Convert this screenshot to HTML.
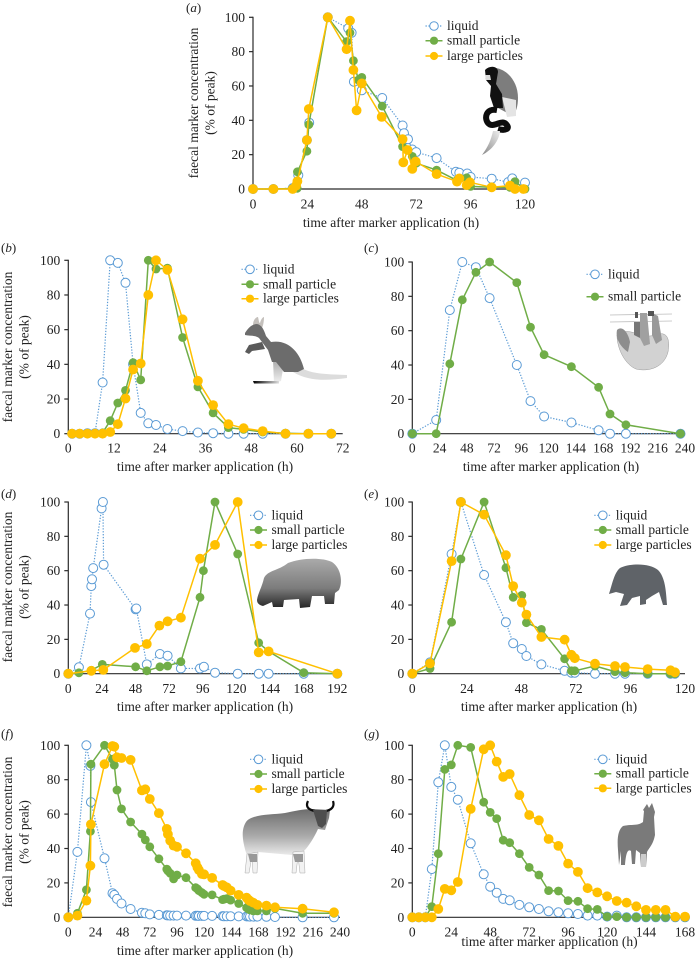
<!DOCTYPE html>
<html lang="en">
<head>
<meta charset="utf-8">
<title>Faecal marker concentration over time</title>
<style>
html,body{margin:0;padding:0;background:#fff;}
#chart{display:block;width:695px;height:959px;font-family:"Liberation Serif",serif;fill:#222;}
</style>
</head>
<body>
<svg id="chart" xmlns="http://www.w3.org/2000/svg" width="695" height="959" viewBox="0 0 695 959">
<defs>
<linearGradient id="kangarooLeg" x1="0" y1="0" x2="0" y2="1"><stop offset="0" stop-color="#aaa"/><stop offset="1" stop-color="#f2f2f2"/></linearGradient>
<linearGradient id="kangarooFoot" x1="0" y1="0" x2="1" y2="0"><stop offset="0" stop-color="#000"/><stop offset="1" stop-color="#ddd"/></linearGradient>
<linearGradient id="hippoBody" x1="0" y1="0" x2="0" y2="1"><stop offset="0" stop-color="#aaa"/><stop offset="0.6" stop-color="#7c7c7c"/><stop offset="1" stop-color="#262626"/></linearGradient>
<linearGradient id="gaurBody" x1="0" y1="0" x2="0" y2="1"><stop offset="0" stop-color="#6d6d6d"/><stop offset="0.55" stop-color="#aaa"/><stop offset="1" stop-color="#f4f4f4"/></linearGradient>
<linearGradient id="monkeyTail" x1="1" y1="0" x2="0" y2="1"><stop offset="0" stop-color="#eee"/><stop offset="1" stop-color="#888"/></linearGradient>
</defs>

<g>
<path d="M496,68 C508,70 518,82 518,98 C518,106 516,112 513,116 L498,108 L492,84 Z" fill="#7d7d7d"/>
<path d="M502,97 L516,100 L516,116 L507,117 Z" fill="#e4e4e4"/>
<path d="M485,70 C490,65 498,66 498,72 L496,84 L502,94 L503,108 L494,108 L490,96 L491,86 L486,80 Z" fill="#111"/>
<path d="M485,75 L490,75 L491,80 L486,80 Z" fill="#ddd"/>
<path d="M497,110 C486,108 484,118 488,123 C493,129 501,119 506,124 C511,129 505,131 498,129" fill="none" stroke="#0c0c0c" stroke-width="6"/>
<path d="M493,131 L500,131 C499,141 492,150 482,155 C488,147 491,140 493,131 Z" fill="url(#monkeyTail)"/>
</g>

<g>
<path d="M300,367 C312,375 330,374 347,375 L347,378 C325,381 308,381 293,372 Z" fill="#dcdcdc"/>
<path d="M273,360 L284,363 L281,381 L274,383 Z" fill="url(#kangarooLeg)"/>
<path d="M253,381 L279,381 L279,383.5 L254,383.5 Z" fill="url(#kangarooFoot)"/>
<path d="M253,325 C253,320 256,317 258,317 C259,321 259,323 260,323 C261,319 263,317 264,317 C264,322 263,326 262,328 Z" fill="#c4c0bc"/>
<path d="M245,333 C248,328 252,324 257,324 C262,325 264,330 266,336 L271,342 C288,339 300,352 304,369 L298,372 L284,372 L276,362 L272,362 L268,350 L259,338 C255,335 249,336 245,335 Z" fill="#6c6c6c"/>
<path d="M262,342 L249,345 L245,352 L249,354 L252,351 L265,349 Z" fill="#5a5a5a"/>
</g>

<g>
<path d="M610,315 L672,314 M610,322 L672,321" stroke="#bdbdbd" stroke-width="0.8" fill="none"/>
<path d="M617,335 C630,325 640,340 655,335 C668,330 670,340 668,352 C664,368 648,372 636,369 C626,365 617,350 617,335 Z" fill="#d2d2d2" stroke="#999" stroke-width="0.5"/>
<path d="M617,330 C622,325 628,332 630,342 L628,352 C622,348 615,340 617,330 Z" fill="#8d8d8d"/>
<path d="M634,322 L640,322 L640,338 L634,335 Z" fill="#777"/>
<path d="M640,313 L647,313 L650,344 L644,346 L640,338 Z" fill="#a0a0a0"/>
<path d="M652,313 L658,316 L662,340 L656,344 L652,335 Z" fill="#999"/>
<path d="M635,312 L638,312 L638,318 L635,318 Z M648,311 L654,311 L654,316 L648,316 Z" fill="#555"/>
</g>

<g>
<path d="M257,600 C258,593 262,587 264,578 C268,570 278,571 288,563 C300,558 322,557 332,562 C341,568 343,582 339,590 L335,593 L334,604 L325,604 L324,596 L312,596 L310,607 L300,608 L299,599 L284,600 L283,607 L273,607 L272,602 L263,606 C259,605 257,603 257,600 Z" fill="url(#hippoBody)"/>
</g>

<g>
<path d="M609,594 C612,585 614,573 620,568 C630,563 650,563 658,570 C665,577 666,590 667,605 L663,605 L659,592 L652,596 L646,600 L646,604 L640,605 L640,596 L632,598 L627,605 L620,606 L624,594 L616,592 Z" fill="#5f6368"/>
</g>

<g>
<path d="M246,822 C252,814 270,815 285,813 C295,811 303,809 312,809 L330,810 L329,818 L325,830 L318,829 C314,838 308,847 304,851 L303,856 L258,852 L254,858 L247,856 C242,840 241,830 246,822 Z" fill="url(#gaurBody)"/>
<path d="M247,854 L245,873 L249,873 L252,856 L253,873 L257,873 L258,852 Z M293,852 L292,873 L296,873 L298,856 L300,873 L305,873 L304,851 Z" fill="#f2f2f2" stroke="#aaa" stroke-width="0.5"/>
<path d="M248,854 L257,854 L257,862 L250,862 Z M293,854 L303,854 L303,862 L295,862 Z" fill="#999"/>
<path d="M308,801 C305,807 309,810 315,811 M333,801 C335,807 331,810 326,811" fill="none" stroke="#0c0c0c" stroke-width="2.2"/>
<path d="M313,810 L327,810 L326,824 L322,828 L318,826 Z" fill="#4e4e4e"/>
</g>

<g>
<path d="M647,804 L649,808 L652,803 L655,812 L654,817 L655,835 C653,845 649,848 647,852 L646,867 L641,867 L640,853 L636,850 L635,864 L632,864 L631,851 C628,849 626,852 625,865 L621,865 L621,851 L619,865 L618,850 C617,838 618,830 623,826 C632,824 638,826 643,822 L644,811 L643,810 Z" fill="#7a7a7a"/>
<path d="M641,854 L646,854 L646,867 L641,867 Z" fill="#ccc"/>
</g>

<g id="panels"></g>
</svg>

<script>
// ---------- Panel (a) ----------
const aLiquidHours = [0,9,17.5,20,23.8,24.8,33,42,43.5,44.5,48,57,66,66.6,68.4,70.3,72,81,89.5,91,94.5,96,105.3,112.6,114.4,120];
const aLiquidValues = [0,0,0.5,8,28.5,38.6,100,93.6,91,62.5,57.5,53,37,32.5,29,23,21.5,18,10,9.5,9,7,6,4,6.2,3.7];
const aSmallHours = [0,9,17.5,19.5,19.6,23.8,24.6,33,41.3,42.8,44.3,46.5,48,57,66,70.3,72,81,90,94.3,96,105,113.4,115.6,120];
const aSmallValues = [0,0,0.3,0.4,10,22,37.5,100,85.8,91,74.7,63.5,65,48.3,24.7,19,15,11,5,6.5,1.5,1,1,4.3,0];
const aLargeHours = [0,9,17.5,19,19.6,23.8,24.6,33,41.3,42.8,44.3,45.7,48,56.8,66,66.3,68.2,70.3,71.8,81,90,91,94.3,95.7,105.3,113.4,115.6,119.3];
const aLargeValues = [0,0,0,2,4.5,28.5,46.6,100,81.4,98,69.3,45.8,61.5,42,29,15.5,22.7,11.7,16,8.7,4.3,6.2,2.3,3.9,1,2,0,0];
const aTicks = [0,24,48,72,96,120];

// ---------- Panel (b) ----------
const bHours = [1,3,5,7,9,11,13,15,17,19,21,23,26,30,34,38,42,46,51,57,63,69];
const bLiquidValues = [0,0,0.3,0.3,29.5,100,98.5,87,40,12,6,5,2.7,1.5,0.7,0.3,0,0,0,0,0,0];
const bSmallValues = [0,0,0,0,0.5,7.5,17.7,25,41,31,100,95,95.5,55.5,27,12,3.5,2.5,1,0.3,0,0];
const bLargeValues = [0,0,0,0,0,1,5.5,20.3,37,40.5,80,100,94.5,66,30.5,16.5,5.5,3.2,1.5,0,0,0];
const bTicks = [0,12,24,36,48,60,72];

// ---------- Panel (c) ----------
const cHours = [0,21,33,44,56,68,92,104,116,140,164,174,188,236];
const cLiquidValues = [0,8,72,100,97,79,40,19,10,6.5,2,0,0,0];
const cSmallValues = [0,0,40.7,78,94,100,88,62,46,39,27,11.5,5.2,0];
const cTicks = [0,24,48,72,96,120,144,168,192,216,240];

// ---------- Panel (d) ----------
const dLiquidHours = [0,7.6,15.5,16.4,16.9,17.8,23.8,24.7,25.2,48,48.5,56,65.4,70.9,80.4,94,96.8,104.7,120.9,136,143,168,192];
const dLiquidValues = [0,3.7,35,51,55,61.5,96.3,100,63.5,37.5,38,5.4,11.5,10.5,3.1,3,4,0.6,0,0,0,0,0];
const dSmallHours = [0,7.6,16.4,24.3,48,56,65.4,70.9,80.4,94,96.4,104.7,120.9,135.9,143,168,192];
const dSmallValues = [0,0.5,2,5.4,4,1.7,4,4.5,7,44.5,60,100,69.7,18,13,0.6,0];
const dLargeHours = [0,16.4,25,47.6,56,65,70.9,80.4,94,104.7,120.9,135.9,143,192];
const dLargeValues = [0,1.7,2.2,15,17.3,28,30.5,32.6,67,75,100,12.4,13,0];
const dTicks = [0,24,48,72,96,120,144,168,192];

// ---------- Panel (e) ----------
const eHours = [0,7.8,17.3,21.4,31.6,41.2,44.4,48.2,50.2,56.8,67,70,71.5,80.4,89.2,93.6,103.6,113.6,115.6];
const eLiquidValues = [0,6.6,69.7,100,57.5,30,17.7,14.4,10.3,5.4,1.7,0.6,0.6,0,0,0,0,0,0];
const eSmallValues = [0,3,30,66.8,100,61.7,44.5,45.6,29.7,25.8,8.7,1.7,1.7,4.5,1.2,0.6,0,0,0];
const eLargeValues = [0,6,65.6,100,92.6,69,51,41.4,34.4,21.4,19.8,11,9,5.8,4.5,3.9,2.7,2,0.8];
const eTicks = [0,24,48,72,96,120];

// ---------- Panel (f) ----------
const fHours = [0,8,16,19.5,20,32,39,40.6,43,47,55,65,68,72,80,87,88,90,93,96,104,112.5,114,115.4,118,120,127,136.3,137.5,140,143.4,150.5,157.5,159,160.5,163.4,167,175,182.6,207,234.7];
const fLiquidValues = [0,38,100,88,67,34.3,14,13,10.7,8,4.8,2.7,2.3,1.7,1.4,1.2,1.1,1,1,1,1,0.9,0.9,0.8,0.8,0.8,0.8,0.7,0.6,0.6,0.6,0.5,0.5,0.5,0.4,0.4,0.4,0.3,0.2,0,0];
const fSmallValues = [0,2.3,16,50,89,100,92,88.5,74,63,55.4,48.4,45,41,34,28,27,25.6,22.3,24.6,23,17.2,16.5,15.5,14.3,13.4,13,10.3,10.5,10.9,10,8,5.6,4.8,4.3,3.7,3.7,3.7,5.2,2.3,2.3];
const fLargeValues = [0,1,9.7,30,54,89,99.6,99.2,93,92.6,91.5,73.8,74.4,68.8,60.5,51.4,48.3,44.6,41.7,41,37.2,31.4,29,27.5,25.2,25,22.9,18.8,18.2,17.4,15.5,13,11.4,10.3,9.5,8.5,7.2,6.8,5.8,5,2.9];
const fTicks = [0,24,48,72,96,120,144,168,192,216,240];

// ---------- Panel (g) ----------
const gHours = [0,4,8,12,16,20,24,28,36,44,48,52,56,60,66,72,78,84,90,96,102,108,114,120,126,132,138,144,150,156,162,168];
const gLiquidValues = [0,0,0,28,78.5,100,75.8,68.4,43,25,17.8,14.3,10.7,9.9,7.2,5.8,4.8,3.5,2.9,2.3,1.9,1,1,0.4,1,0,0,0,0,0,0,0];
const gSmallValues = [0,0,0,6.2,37,86,88.6,100,98.8,66.9,61,57.4,44.8,43.4,37,29,24.6,15.5,15.3,9.7,9.3,5,4.6,0.4,0.4,0,0,0,0,0,0,0];
const gLargeValues = [0,0,0,0,4.8,16.5,15.7,20.5,63,97.7,100,90.5,81.6,83.3,71,59.5,56.4,45.5,41.5,31.2,26.4,16.9,14.5,12.2,9.5,8.5,6.4,4.3,4.3,4.3,0.4,0.4];
const gTicks = [0,24,48,72,96,120,144,168];

const yTicks = [0,20,40,60,80,100];
const seriesNames = ['liquid','small particle','large particles'];

const SVGNS = 'http://www.w3.org/2000/svg';
const root = document.getElementById('panels');
const COLORS = {liquid:'#5b9bd5', small:'#70ad47', large:'#ffc000'};

function mk(tag, parent, attrs){
  const el = document.createElementNS(SVGNS, tag);
  for (const k in attrs) el.setAttribute(k, attrs[k]);
  parent.appendChild(el);
  return el;
}

function drawSeries(g, kind, hours, values, xs, ys){
  const color = COLORS[kind];
  const line = mk('polyline', g, {
    points: hours.map((h,i)=>xs(h).toFixed(1)+','+ys(values[i]).toFixed(1)).join(' '),
    fill:'none', stroke:color,
    'stroke-width': kind==='liquid' ? 1.2 : 1.5,
    'stroke-dasharray': kind==='liquid' ? '1.3 1.6' : 'none',
    'stroke-linejoin':'round'
  });
  
  
  hours.forEach((h,i)=>{
    const dot = mk('circle', g, {
      cx: xs(h).toFixed(1), cy: ys(values[i]).toFixed(1),
      r: kind==='liquid' ? 4.5 : (kind==='small' ? 4.4 : 4.9),
      fill: kind==='liquid' ? '#fff' : color,
      stroke: color, 'stroke-width': kind==='liquid' ? 1 : 0
    });
    
    
  });
}

function drawLegend(g, p){
  p.legendNames.forEach((name,i)=>{
    const kind = name==='liquid' ? 'liquid' : (name==='small particle' ? 'small' : 'large');
    const y = p.legendY[i];
    const color = COLORS[kind];
    const entry = mk('g', g, {});
    
    
    mk('line', entry, {x1:p.legendX, x2:p.legendX+17, y1:y, y2:y, stroke:color,
      'stroke-width': kind==='liquid' ? 1.2 : 1.5,
      'stroke-dasharray': kind==='liquid' ? '1.3 1.6' : 'none'});
    mk('circle', entry, {cx:p.legendX+8.5, cy:y, r: kind==='liquid' ? 4.3 : 4.1,
      fill: kind==='liquid' ? '#fff' : color, stroke:color, 'stroke-width': kind==='liquid' ? 1 : 0});
    const t = mk('text', entry, {x:p.legendX+21.5, y:y+4, 'font-size':13.5});
    t.textContent = name;
  });
}

function drawPanel(p){
  const g = mk('g', root, {});
  
  
  const xs = h => p.x0 + (h - 0) * (p.x1 - p.x0) / p.xMax;
  const ys = v => p.y0 - v * (p.y0 - p.y100) / 100;

  const label = mk('text', g, {x:p.labelX, y:p.labelY, 'font-size':13, 'font-style':'normal'});
  
  
  label.appendChild(document.createTextNode('('));
  const it = mk('tspan', label, {'font-style':'italic'});
  it.textContent = p.id;
  label.appendChild(document.createTextNode(')'));

  // axes
  const yAxis = mk('g', g, {stroke:'#2b2b2b', 'stroke-width':1.2});
  
  
  mk('line', yAxis, {x1:p.x0, x2:p.x0, y1:p.y100-0.5, y2:p.y0+0.5});
  yTicks.forEach(v=>{
    mk('line', yAxis, {x1:p.x0-4, x2:p.x0, y1:ys(v), y2:ys(v)});
    const t = mk('text', g, {x:p.x0-8, y:ys(v)+4.5, 'text-anchor':'end', 'font-size':13.5});
    t.textContent = v;
    
    
  });
  const xAxis = mk('g', g, {stroke:'#2b2b2b', 'stroke-width':1.2});
  
  
  mk('line', xAxis, {x1:p.x0, x2:p.x1, y1:p.y0, y2:p.y0});
  p.xTicks.forEach(v=>{
    const t = mk('text', g, {x:xs(v), y:p.tickY, 'text-anchor':'middle', 'font-size':13.5});
    t.textContent = v;
    
    
  });

  // titles
  const xt = mk('text', g, {x:p.xTitleX, y:p.xTitleY, 'text-anchor':'middle', 'font-size':13.5});
  xt.textContent = 'time after marker application (h)';
  
  
  if (p.yTitleX !== undefined){
    const cy = p.yTitleCy;
    const t1 = mk('text', g, {x:p.yTitleX, y:cy, 'text-anchor':'middle', 'font-size':13.5,
      transform:'rotate(-90 '+p.yTitleX+' '+cy+')'});
    t1.textContent = 'faecal marker concentration';
    
    
    const t2 = mk('text', g, {x:p.yTitleX+16.5, y:cy, 'text-anchor':'middle', 'font-size':13.5,
      transform:'rotate(-90 '+(p.yTitleX+16.5)+' '+cy+')'});
    t2.textContent = '(% of peak)';
    
    
  }

  p.series.forEach(s => drawSeries(g, s.kind, s.hours, s.values, xs, ys));
  drawLegend(g, p);
}

const panels = [
  {id:'a', x0:253, x1:525, xMax:120, y100:17.3, y0:189, tickY:208.5, xTitleX:391, xTitleY:227, labelX:186, labelY:12,
   yTitleX:198, yTitleCy:103, xTicks:aTicks, legendX:425.5, legendY:[26,40.7,56], legendNames:seriesNames,
   series:[{kind:'liquid',hours:aLiquidHours,values:aLiquidValues},{kind:'small',hours:aSmallHours,values:aSmallValues},{kind:'large',hours:aLargeHours,values:aLargeValues}]},
  {id:'b', x0:68.3, x1:342.7, xMax:72, y100:260.3, y0:433.7, tickY:452.5, xTitleX:205, xTitleY:471, labelX:1, labelY:252,
   yTitleX:12, yTitleCy:347, xTicks:bTicks, legendX:241.5, legendY:[269.3,284.3,298.7], legendNames:seriesNames,
   series:[{kind:'liquid',hours:bHours,values:bLiquidValues},{kind:'small',hours:bHours,values:bSmallValues},{kind:'large',hours:bHours,values:bLargeValues}]},
  {id:'c', x0:412.3, x1:685, xMax:240, y100:262, y0:433.7, tickY:452.5, xTitleX:551, xTitleY:471, labelX:364, labelY:252,
   xTicks:cTicks, legendX:586.5, legendY:[274.3,296.7], legendNames:seriesNames.slice(0,2),
   series:[{kind:'liquid',hours:cHours,values:cLiquidValues},{kind:'small',hours:cHours,values:cSmallValues}]},
  {id:'d', x0:68.3, x1:337.3, xMax:192, y100:502, y0:673.7, tickY:693, xTitleX:205, xTitleY:711, labelX:1, labelY:498,
   yTitleX:12, yTitleCy:587, xTicks:dTicks, legendX:250, legendY:[515.3,530,545], legendNames:seriesNames,
   series:[{kind:'liquid',hours:dLiquidHours,values:dLiquidValues},{kind:'small',hours:dSmallHours,values:dSmallValues},{kind:'large',hours:dLargeHours,values:dLargeValues}]},
  {id:'e', x0:412.3, x1:685, xMax:120, y100:502, y0:673.7, tickY:693, xTitleX:549, xTitleY:711, labelX:364, labelY:498,
   xTicks:eTicks, legendX:594.3, legendY:[515.3,530,545], legendNames:seriesNames,
   series:[{kind:'liquid',hours:eHours,values:eLiquidValues},{kind:'small',hours:eHours,values:eSmallValues},{kind:'large',hours:eHours,values:eLargeValues}]},
  {id:'f', x0:68.3, x1:340, xMax:240, y100:745.3, y0:917.3, tickY:936.5, xTitleX:205, xTitleY:955, labelX:1, labelY:738,
   yTitleX:12, yTitleCy:832, xTicks:fTicks, legendX:250, legendY:[759.3,774,789], legendNames:seriesNames,
   series:[{kind:'liquid',hours:fHours,values:fLiquidValues},{kind:'small',hours:fHours,values:fSmallValues},{kind:'large',hours:fHours,values:fLargeValues}]},
  {id:'g', x0:412.3, x1:685, xMax:168, y100:745.3, y0:917.3, tickY:936.5, xTitleX:549.5, xTitleY:946, labelX:364, labelY:738,
   xTicks:gTicks, legendX:594.3, legendY:[759.3,773.7,788.3], legendNames:seriesNames,
   series:[{kind:'liquid',hours:gHours,values:gLiquidValues},{kind:'small',hours:gHours,values:gSmallValues},{kind:'large',hours:gHours,values:gLargeValues}]}
];
panels.forEach(drawPanel);
</script>
</body>
</html>
